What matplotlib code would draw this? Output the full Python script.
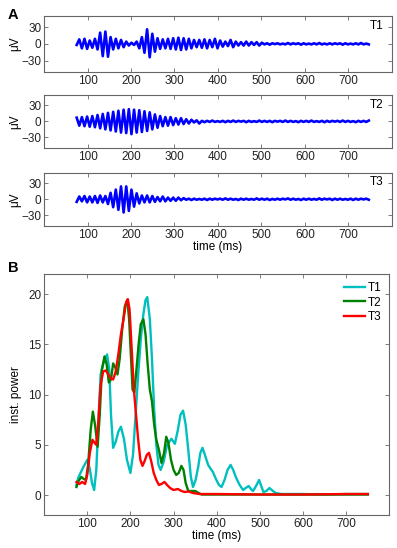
import numpy as np
import matplotlib
matplotlib.use('Agg')
from matplotlib import pyplot as plt

plt.rcParams['font.family'] = ['Liberation Sans', 'DejaVu Sans']
plt.rcParams['font.size'] = 8.5

# --- panel A: successive extrema of the filtered traces (uV), one every 6 ms from 75 ms ---
trace_labels = ['T1', 'T2', 'T3']
t_start = 75
half_period = 6

t1_uv = [-2, 8, -8, 9, -9, 6, -7, 9, -10, 20,
         -22, 22, -23, 12, -10, 9, -8, 7, -6, 4,
         -3, 2, -2, 4, -8, 12, -16, 26, -24, 18,
         -14, 10, -9, 8, -8, 9, -9, 10, -10, 11,
         -11, 10, -10, 9, -8, 7, -6, 7, -7, 8,
         -8, 7, -6, 9, -8, 6, -5, 4, -4, 7,
         -6, 4, -3, 3, -3, 4, -3, 3, -2, 3,
         -3, 2,
         -1, 1, -1.5, 1, -0.5, 1, -1, 0.5, -1, 1.5,
         -1, 1, -0.5, 1, -1.5, 1, -1, 0.5, -1, 1,
         -1, 1.5, -1, 0.5, -1, 1, -1, 1, -0.5, 1,
         -1.5, 1, -1, 0.5, -1, 1, -1, 1.5, -1, 0.5,
         -1]

t2_uv = [7, -8, 8, -9, 9, -10, 10, -11, 12, -13,
         14, -15, 16, -17, 18, -19, 20, -21, 22, -22,
         23, -24, 22, -21, 21, -20, 19, -18, 17, -15,
         13, -12, 10, -9, 8, -8, 8, -7, 6, -6,
         6, -5, 4, -4, 3, -2, 2, -4,
         1, -1.5, 1, -1, 1.5, -1, 0.5, -1, 1, -1.5,
         1, -1, 1.5, -1, 1, -0.5, 1, -1.5, 1, -1,
         0.5, -1, 1.5, -1, 1, -1, 1, -1.5, 1, -0.5,
         1, -1, 1.5, -1, 1, -1, 0.5, -1.5, 1, -1,
         1, -1, 1.5, -1, 0.5, -1, 1, -1.5, 1, -1,
         1, -0.5, 1, -1, 1.5, -1, 1, -1, 0.5, -1.5,
         1, -1, 1, -1, 1.5]

t3_uv = [-5, 5, -4, 6, -6, 5, -6, 6, -7, 7,
         -6, 6, -9, 12, -15, 18, -20, 24, -25, 24,
         -22, 18, -14, 11, -8, 7, -6, 7, -6, 6,
         -5, 4, -4, 5, -4, 3, -3, 3, -3, 3,
         -2, 2,
         -1, 1, -1.5, 1, -1, 0.5, -1, 1, -1.5, 1,
         -1, 1, -0.5, 1, -1, 1.5, -1, 1, -1, 0.5,
         -1.5, 1, -1, 1, -1, 0.5, -1, 1.5, -1, 1,
         -1, 1, -1.5, 0.5, -1, 1, -1, 1, -0.5, 1.5,
         -1, 1, -1, 0.5, -1.5, 1, -1, 1, -1, 0.5,
         -1, 1.5, -1, 1, -0.5, 1, -1.5, 1, -1, 1,
         -1, 0.5, -1, 1, -1.5, 1, -1, 1, -0.5, 1,
         -1]

# --- panel B: instantaneous power ---
p1_t = [75, 80, 90, 100, 106, 111, 116, 121, 126, 131,
        138, 146, 151, 155, 160, 166, 172, 178, 185, 192,
        200, 206, 212, 218, 224, 230, 235, 239, 245, 250,
        255, 260, 265, 270, 277, 285, 295, 303, 310, 316,
        322, 328, 334, 340, 345, 351, 357, 362, 367, 374,
        380, 386, 391, 398, 405, 411, 418, 425, 432, 438,
        445, 453, 461, 467, 474, 479, 484, 491, 498, 503,
        508, 515, 522, 530, 537, 550, 600, 650, 700, 750]
p1 = [1.0, 1.8, 2.7, 3.5, 2.6, 1.2, 0.5, 2.5, 7.5, 12.0,
      13.2, 14.0, 12.5, 8.0, 4.7, 5.3, 6.3, 6.8, 5.6, 3.5,
      2.2, 4.0, 8.0, 12.0, 15.5, 18.0, 19.4, 19.7, 17.5, 13.5,
      8.5, 5.0, 3.0, 2.5, 3.3, 5.0, 5.6, 5.1, 6.5, 8.0,
      8.4, 7.0, 4.5, 1.8, 0.8, 1.5, 2.8, 4.2, 4.7, 3.8,
      3.0, 2.6, 2.3, 1.6, 1.0, 0.8, 1.5, 2.5, 3.0, 2.5,
      1.7, 1.0, 0.5, 0.7, 0.9, 0.6, 0.4, 0.9, 1.5, 0.9,
      0.3, 0.4, 0.7, 0.4, 0.2, 0.1, 0.1, 0.05, 0.1, 0.1]

p2_t = [75, 80, 86, 92, 97, 102, 108, 113, 118, 124,
        129, 134, 140, 145, 150, 155, 160, 165, 170, 175,
        181, 187, 193, 197, 201, 205, 209, 214, 219, 224,
        230, 235, 240, 245, 250, 255, 260, 266, 272, 278,
        283, 288, 294, 300, 306, 312, 318, 323, 328, 334,
        340, 350, 358, 365, 380, 450, 550, 650, 750]
p2 = [0.8, 1.4, 1.8, 1.6, 1.5, 3.0, 6.5, 8.3, 7.0, 4.8,
      8.0, 12.5, 13.8, 13.0, 11.2, 11.5, 13.1, 12.7, 12.0, 13.5,
      16.5, 18.8, 19.3, 17.5, 14.0, 10.5, 10.2, 12.5, 15.0, 17.0,
      17.5, 16.0, 13.0, 10.5, 9.3, 7.0, 5.5, 4.5, 3.2, 4.2,
      5.8, 5.2, 3.5, 2.5, 2.0, 2.2, 2.9, 2.5, 1.2, 0.4,
      0.4, 0.4, 0.2, 0.05, 0.05, 0.05, 0.05, 0.05, 0.05]

p3_t = [75, 82, 88, 95, 100, 106, 112, 117, 121, 126,
        131, 137, 143, 149, 155, 160, 166, 172, 178, 184,
        190, 194, 198, 203, 208, 213, 218, 223, 228, 233,
        238, 243, 248, 254, 260, 266, 272, 279, 285, 292,
        300, 310, 318, 326, 335, 345, 360, 400, 500, 600,
        700, 750]
p3 = [1.3, 1.1, 1.3, 1.1, 2.0, 4.2, 5.5, 5.2, 5.0, 7.5,
      11.0, 12.3, 12.4, 12.0, 11.6, 11.5, 12.3, 14.0, 16.0, 17.5,
      19.2, 19.5, 18.5, 14.5, 10.5, 8.0, 5.5, 3.5, 2.9, 3.4,
      4.0, 4.2, 3.4, 2.2, 1.5, 1.0, 1.1, 1.3, 1.0, 0.7,
      0.5, 0.6, 0.4, 0.3, 0.35, 0.2, 0.1, 0.1, 0.05, 0.05,
      0.1, 0.1]

power_colors = ['#00bfbf', '#008000', '#ff0000']
xticks = [100, 200, 300, 400, 500, 600, 700]


def style_axes(ax):
    for s in ax.spines.values():
        s.set_color('0.4')
        s.set_linewidth(0.8)
    ax.tick_params(direction='in', top=True, right=True, length=3,
                   width=0.6, color='0.4', labelcolor='#222222', pad=2)
    ax.set_xticks(xticks)
    ax.set_xlim(0, 800)


fig = plt.figure(figsize=(3.97, 5.48), dpi=100)

a_boxes = [[0.111, 0.869, 0.876, 0.102],
           [0.111, 0.730, 0.876, 0.097],
           [0.111, 0.588, 0.876, 0.097]]
for box, vals, lab in zip(a_boxes, [t1_uv, t2_uv, t3_uv], trace_labels):
    ax = fig.add_axes(box)
    t = t_start + half_period * np.arange(len(vals))
    ax.plot(t, vals, color='#0000ff', lw=1.9)
    style_axes(ax)
    ax.set_ylim(-50, 50)
    ax.set_yticks([-30, 0, 30])
    ax.set_ylabel('\u03bcV', labelpad=0)
    ax.text(0.975, 0.93, lab, transform=ax.transAxes, ha='right', va='top')
ax.set_xlabel('time (ms)', labelpad=0)

axb = fig.add_axes([0.111, 0.060, 0.870, 0.440])
for tt, pp, c, lab in zip([p1_t, p2_t, p3_t], [p1, p2, p3], power_colors, trace_labels):
    axb.plot(tt, pp, color=c, lw=1.7, label=lab)
style_axes(axb)
axb.set_ylim(-2, 22)
axb.set_yticks([0, 5, 10, 15, 20])
axb.set_ylabel('inst. power', labelpad=4)
axb.set_xlabel('time (ms)', labelpad=0)
axb.legend(loc='upper right', frameon=False, handlelength=1.8,
           handletextpad=0.2, labelspacing=0.2, borderaxespad=0.3)

fig.text(0.02, 0.966, 'A', fontsize=10.5, fontweight='bold')
fig.text(0.02, 0.504, 'B', fontsize=10.5, fontweight='bold')

fig.savefig('out.png', dpi=100)
